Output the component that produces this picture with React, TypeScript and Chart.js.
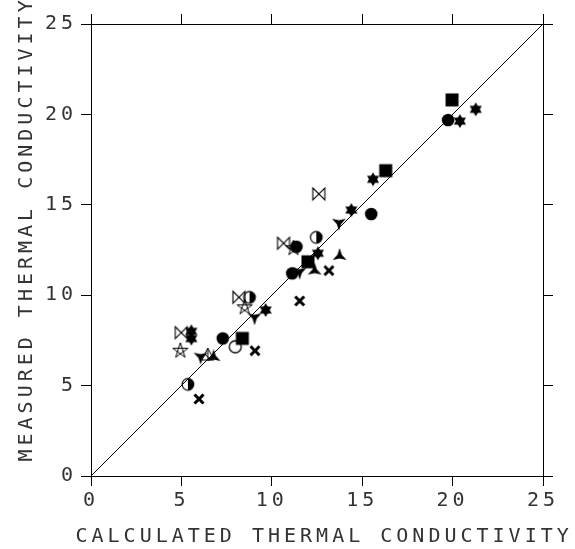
import React, { useEffect, useRef } from 'react';
import { Chart, registerables } from 'chart.js';

Chart.register(...registerables);

// ---- data ----
const xTitle = 'CALCULATED THERMAL CONDUCTIVITY';
const yTitle = 'MEASURED THERMAL CONDUCTIVITY';
const axisMin = 0;
const axisMax = 25;
const axisStep = 5;

const diagX = [0, 25];
const diagY = [0, 25];

const filledCircleX = [7.29, 11.13, 11.36, 15.5, 19.75];
const filledCircleY = [7.61, 11.21, 12.68, 14.49, 19.69];

const squareX = [8.37, 12.0, 16.3, 19.97];
const squareY = [7.61, 11.85, 16.89, 20.8];

const halfCircleX = [5.36, 8.77, 12.46];
const halfCircleY = [5.07, 9.88, 13.2];

const openCircleX = [7.98];
const openCircleY = [7.15];

const crossX = [5.97, 9.07, 11.54, 13.16];
const crossY = [4.26, 6.93, 9.68, 11.36];

const star6X = [5.55, 5.55, 9.66, 12.55, 14.4, 15.6, 20.4, 21.28];
const star6Y = [8.0, 7.6, 9.18, 12.32, 14.71, 16.41, 19.63, 20.28];

const star5X = [4.94, 8.5, 11.2];
const star5Y = [6.93, 9.33, 12.6];

const bowtieX = [4.99, 8.18, 10.65, 12.6];
const bowtieY = [7.93, 9.88, 12.87, 15.6];

const triDownX = [6.06, 9.05, 11.54, 13.71];
const triDownY = [6.6, 8.78, 11.3, 14.01];

const triUpX = [6.78, 12.37, 13.75];
const triUpY = [6.58, 11.36, 12.17];

const triOutlineX = [6.46];
const triOutlineY = [6.69];

const FONT_FAMILY = "'DejaVu Sans Mono', monospace";
const TEXT_COLOR = '#333';
const SPACING = '4px';

function pts(xs: number[], ys: number[]) {
  return xs.map((x, i) => ({ x, y: ys[i] }));
}

function makeMarker(kind: string): HTMLCanvasElement {
  const s = 22;
  const c = document.createElement('canvas');
  c.width = s;
  c.height = s;
  const g = c.getContext('2d')!;
  g.translate(s / 2, s / 2);
  g.fillStyle = '#000';
  g.strokeStyle = '#000';
  g.lineWidth = 1.2;
  const poly = (points: [number, number][]) => {
    g.beginPath();
    points.forEach(([px, py], i) => (i === 0 ? g.moveTo(px, py) : g.lineTo(px, py)));
    g.closePath();
  };
  const polar = (r: number, deg: number): [number, number] => [
    r * Math.cos((deg * Math.PI) / 180),
    r * Math.sin((deg * Math.PI) / 180),
  ];
  switch (kind) {
    case 'circle':
      g.beginPath();
      g.arc(0, 0, 6.3, 0, Math.PI * 2);
      g.fill();
      break;
    case 'square':
      g.fillRect(-6.5, -6.5, 13, 13);
      break;
    case 'half':
      g.beginPath();
      g.arc(0, 0, 5.8, 0, Math.PI * 2);
      g.stroke();
      g.beginPath();
      g.arc(0, 0, 5.8, -Math.PI / 2, Math.PI / 2);
      g.closePath();
      g.fill();
      break;
    case 'open':
      g.lineWidth = 1.3;
      g.beginPath();
      g.arc(0, 0, 6, 0, Math.PI * 2);
      g.stroke();
      break;
    case 'cross':
      g.lineWidth = 3;
      g.beginPath();
      g.moveTo(-4.5, -4.5);
      g.lineTo(4.5, 4.5);
      g.moveTo(-4.5, 4.5);
      g.lineTo(4.5, -4.5);
      g.stroke();
      break;
    case 'star6':
      poly([polar(7, -90), polar(7, 30), polar(7, 150)]);
      g.fill();
      poly([polar(7, 90), polar(7, 210), polar(7, 330)]);
      g.fill();
      break;
    case 'star5': {
      g.lineWidth = 1;
      const v = [0, 1, 2, 3, 4].map((i) => polar(8, -90 + i * 72));
      poly([v[0], v[2], v[4], v[1], v[3]]);
      g.stroke();
      break;
    }
    case 'bowtie':
      g.lineWidth = 1.1;
      poly([[-6, -6], [6, 6], [6, -6], [-6, 6]]);
      g.stroke();
      break;
    case 'triDown':
      poly([polar(8, 90), polar(2.5, 150), polar(8, 210), polar(2.5, 270), polar(8, 330), polar(2.5, 30)]);
      g.fill();
      break;
    case 'triUp':
      poly([polar(8, -90), polar(2.5, -30), polar(8, 30), polar(2.5, 90), polar(8, 150), polar(2.5, 210)]);
      g.fill();
      break;
    case 'triOutline':
      g.lineWidth = 1;
      poly([[0, -7], [6, 5], [-6, 5]]);
      g.stroke();
      g.beginPath();
      g.moveTo(0, -7);
      g.lineTo(0, 5);
      g.moveTo(-3, -1);
      g.lineTo(3, 5);
      g.stroke();
      break;
  }
  return c;
}

const spacingPlugin = {
  id: 'spacingAndTitles',
  beforeUpdate(chart: any) {
    chart.ctx.letterSpacing = SPACING;
  },
  beforeLayout(chart: any) {
    chart.ctx.letterSpacing = SPACING;
  },
  beforeDraw(chart: any) {
    chart.ctx.letterSpacing = SPACING;
  },
  afterDraw(chart: any) {
    const ctx = chart.ctx as CanvasRenderingContext2D;
    ctx.save();
    (ctx as any).letterSpacing = SPACING;
    ctx.font = `20px ${FONT_FAMILY}`;
    ctx.fillStyle = TEXT_COLOR;
    ctx.textAlign = 'left';
    ctx.textBaseline = 'alphabetic';
    ctx.fillText(xTitle, 75.5, 542);
    ctx.translate(32, 461.5);
    ctx.rotate(-Math.PI / 2);
    ctx.fillText(yTitle, 0, 0);
    ctx.restore();
  },
};

export default function App() {
  const ref = useRef<HTMLCanvasElement | null>(null);

  useEffect(() => {
    document.body.style.margin = '0';
    const canvas = ref.current!;
    const mk = (kind: string, xs: number[], ys: number[]) => ({
      label: kind,
      data: pts(xs, ys),
      pointStyle: makeMarker(kind),
      pointRadius: 7,
      pointHoverRadius: 7,
      showLine: false,
      order: 0,
    });

    const tickFont = { family: FONT_FAMILY, size: 20, lineHeight: 1.2 };
    const grid = {
      drawOnChartArea: false,
      drawTicks: true,
      tickLength: 10,
      color: '#000',
      tickColor: '#000',
      lineWidth: 1,
    };
    const border = { display: true, color: '#000', width: 1 };

    const chart = new Chart(canvas, {
      type: 'scatter',
      data: {
        datasets: [
          {
            label: 'diag',
            data: pts(diagX, diagY),
            showLine: true,
            borderColor: '#000',
            borderWidth: 1,
            pointRadius: 0,
            pointHoverRadius: 0,
            order: 100,
          } as any,
          mk('circle', filledCircleX, filledCircleY),
          mk('square', squareX, squareY),
          mk('half', halfCircleX, halfCircleY),
          mk('open', openCircleX, openCircleY),
          mk('cross', crossX, crossY),
          mk('star6', star6X, star6Y),
          mk('star5', star5X, star5Y),
          mk('bowtie', bowtieX, bowtieY),
          mk('triDown', triDownX, triDownY),
          mk('triUp', triUpX, triUpY),
          mk('triOutline', triOutlineX, triOutlineY),
        ],
      },
      options: {
        animation: false,
        responsive: false,
        maintainAspectRatio: false,
        layout: { padding: 0 },
        events: [],
        plugins: {
          legend: { display: false },
          tooltip: { enabled: false },
        },
        scales: {
          x: {
            type: 'linear',
            position: 'bottom',
            min: axisMin,
            max: axisMax,
            ticks: { stepSize: axisStep, color: TEXT_COLOR, font: tickFont, padding: 3, maxRotation: 0 },
            grid,
            border,
            afterFit: (s: any) => {
              s.height = 73;
            },
          },
          x2: {
            type: 'linear',
            position: 'top',
            min: axisMin,
            max: axisMax,
            ticks: { stepSize: axisStep, display: false },
            grid,
            border,
            afterFit: (s: any) => {
              s.height = 24;
            },
          },
          y: {
            type: 'linear',
            position: 'left',
            min: axisMin,
            max: axisMax,
            ticks: { stepSize: axisStep, color: TEXT_COLOR, font: tickFont, padding: 4 },
            grid,
            border,
            afterFit: (s: any) => {
              s.width = 91;
            },
          },
          y2: {
            type: 'linear',
            position: 'right',
            min: axisMin,
            max: axisMax,
            ticks: { stepSize: axisStep, display: false },
            grid,
            border,
            afterFit: (s: any) => {
              s.width = 32;
            },
          },
        },
      } as any,
      plugins: [spacingPlugin as any],
    });
    return () => chart.destroy();
  }, []);

  return (
    <div style={{ width: 575, height: 549, background: '#fff' }}>
      <canvas ref={ref} width={575} height={549} style={{ display: 'block', width: 575, height: 549 }} />
    </div>
  );
}
